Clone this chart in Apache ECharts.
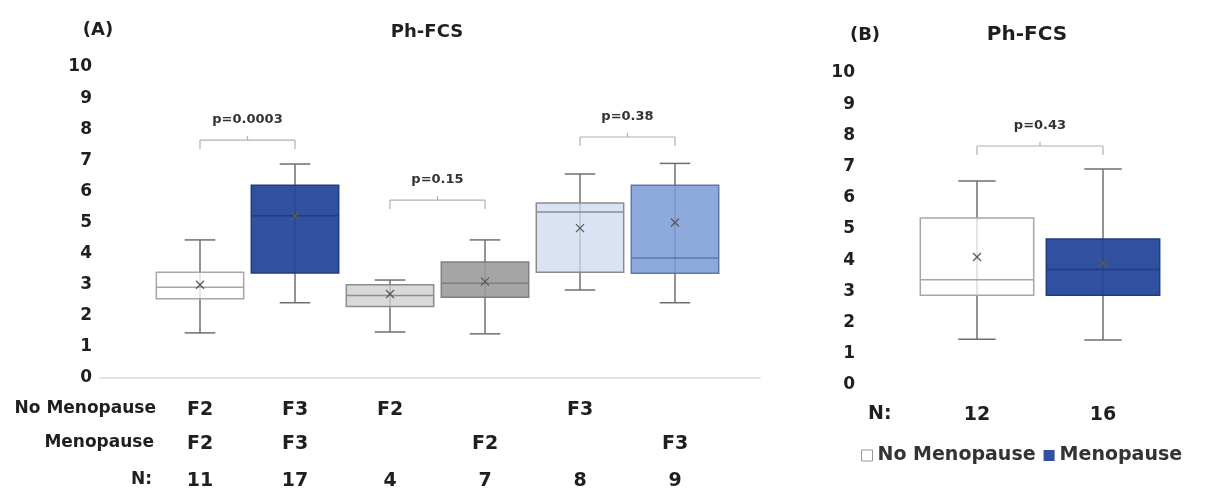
<!DOCTYPE html>
<html><head><meta charset="utf-8">
<script src="https://cdn.jsdelivr.net/npm/echarts@6/dist/echarts.min.js"></script>
<style>html,body{margin:0;padding:0;background:#fff}#c{width:1221px;height:492px}</style>
</head><body><div id="c"></div>
<script>
// ---------- Data: panel A ----------
const catsA = ['NM-F2', 'M-F3', 'NM-F2b', 'M-F2', 'NM-F3', 'M-F3b'];
const rowNoMenoA = ['F2', 'F3', 'F2', '', 'F3', ''];
const rowMenoA = ['F2', 'F3', '', 'F2', '', 'F3'];
const nA = [11, 17, 4, 7, 8, 9];
const minA = [1.45, 2.42, 1.48, 1.42, 2.83, 2.42];
const q1A = [2.55, 3.38, 2.3, 2.6, 3.4, 3.37];
const medA = [2.92, 5.22, 2.65, 3.05, 5.34, 3.86];
const q3A = [3.4, 6.2, 3.0, 3.73, 5.63, 6.2];
const maxA = [4.44, 6.88, 3.15, 4.44, 6.56, 6.9];
const meanA = [3.0, 5.2, 2.7, 3.1, 4.82, 5.0];
const pBracketsA = [[0, 1, 7.65, 'p=0.0003'], [2, 3, 5.72, 'p=0.15'], [4, 5, 7.75, 'p=0.38']];
// ---------- Data: panel B ----------
const catsB = ['No Menopause', 'Menopause'];
const nB = [12, 16];
const minB = [1.47, 1.44];
const q1B = [2.88, 2.88];
const medB = [3.37, 3.7];
const q3B = [5.35, 4.68];
const maxB = [6.54, 6.92];
const meanB = [4.1, 3.9];
const pBracketsB = [[0, 1, 7.66, 'p=0.43']];
const yTicks = [0, 10, 1]; // min, max, interval

// ---------- Styles ----------
const fillA = ['#ffffff', '#2f519f', '#d9d9d9', '#a5a5a5', '#dae3f3', '#8eaadc'];
const strokeA = ['#a6a6a6', '#203d80', '#8c8c8c', '#7f7f7f', '#8c8c8c', '#5b77b0'];
const fillB = ['#ffffff', '#2f519f'];
const strokeB = ['#a6a6a6', '#203d80'];
const FONT = '"DejaVu Sans", "Open Sans", sans-serif';
const TXT = '#1f1f1f';

function rows(arrs) {
  return arrs[0].map((_, i) => arrs.map(a => a[i]));
}

function boxRender(fills, strokes, wRatio, capRatio) {
  return function (params, api) {
    const i = api.value(0);
    const vmin = api.value(1), q1 = api.value(2), med = api.value(3), q3 = api.value(4), vmax = api.value(5), mean = api.value(6);
    const cx = api.coord([i, 0])[0];
    const band = api.size([1, 0])[0];
    const bw = band * wRatio;
    const cw = bw * capRatio;
    const Y = v => api.coord([i, v])[1];
    const fill = fills[params.dataIndex], st = strokes[params.dataIndex];
    const lineStyle = { stroke: '#6f6f6f', lineWidth: 1.5 };
    const ch = [];
    ch.push({ type: 'line', shape: { x1: cx, y1: Y(vmax), x2: cx, y2: Y(vmin) }, style: lineStyle });
    ch.push({ type: 'line', shape: { x1: cx - cw / 2, y1: Y(vmax), x2: cx + cw / 2, y2: Y(vmax) }, style: lineStyle });
    ch.push({ type: 'line', shape: { x1: cx - cw / 2, y1: Y(vmin), x2: cx + cw / 2, y2: Y(vmin) }, style: lineStyle });
    ch.push({ type: 'rect', shape: { x: cx - bw / 2, y: Y(q3), width: bw, height: Y(q1) - Y(q3) }, style: { fill: fill, stroke: st, lineWidth: 1.5 } });
    ch.push({ type: 'line', shape: { x1: cx - bw / 2, y1: Y(med), x2: cx + bw / 2, y2: Y(med) }, style: { stroke: st, lineWidth: 1.5 } });
    ch.push({ type: 'line', shape: { x1: cx, y1: Y(q3), x2: cx, y2: Y(q1) }, style: { stroke: st, lineWidth: 1, opacity: 0.6 } });
    const my = Y(mean), s = 4;
    ch.push({ type: 'line', shape: { x1: cx - s, y1: my - s, x2: cx + s, y2: my + s }, style: { stroke: '#5a5a5a', lineWidth: 1.3 } });
    ch.push({ type: 'line', shape: { x1: cx - s, y1: my + s, x2: cx + s, y2: my - s }, style: { stroke: '#5a5a5a', lineWidth: 1.3 } });
    return { type: 'group', children: ch };
  };
}

function bracketRender(params, api) {
  const a = api.value(0), b = api.value(1), v = api.value(2);
  const label = api.value(3);
  const p1 = api.coord([a, v]), p2 = api.coord([b, v]);
  const st = { stroke: '#b0b0b0', lineWidth: 1.2 };
  const mx = (p1[0] + p2[0]) / 2;
  return {
    type: 'group', children: [
      { type: 'line', shape: { x1: p1[0], y1: p1[1], x2: p2[0], y2: p2[1] }, style: st },
      { type: 'line', shape: { x1: p1[0], y1: p1[1], x2: p1[0], y2: p1[1] + 9 }, style: st },
      { type: 'line', shape: { x1: p2[0], y1: p2[1], x2: p2[0], y2: p2[1] + 9 }, style: st },
      { type: 'line', shape: { x1: mx, y1: p1[1], x2: mx, y2: p1[1] - 4 }, style: st },
      { type: 'text', style: { text: label, x: mx, y: p1[1] - 20, textAlign: 'center', textVerticalAlign: 'middle', font: 'bold 13px ' + FONT, fill: '#333' } }
    ]
  };
}

const chart = echarts.init(document.getElementById('c'), null, { renderer: 'canvas' });

const yBase = { type: 'value', min: yTicks[0], max: yTicks[1], interval: yTicks[2], splitLine: { show: false }, axisLine: { show: false }, axisTick: { show: false } };
const xLab = (margin, arr) => ({
  show: true, margin: margin, interval: 0, color: TXT, fontFamily: FONT, fontWeight: 'bold', fontSize: 19,
  formatter: (val, idx) => String(arr[idx])
});

const option = {
  backgroundColor: '#fff',
  animation: false,
  grid: [
    { left: 152.5, top: 67, width: 570, height: 311 },   // A boxes
    { left: 100, top: 67, width: 660, height: 311 },     // A frame (axis line + y labels)
    { left: 914, top: 73, width: 252, height: 312 }      // B
  ],
  xAxis: [
    { type: 'category', gridIndex: 0, data: catsA, axisLine: { show: false }, axisTick: { show: false }, axisLabel: xLab(23, rowNoMenoA) },
    { type: 'category', gridIndex: 0, data: catsA, position: 'bottom', axisLine: { show: false }, axisTick: { show: false }, axisLabel: xLab(57, rowMenoA) },
    { type: 'category', gridIndex: 0, data: catsA, position: 'bottom', axisLine: { show: false }, axisTick: { show: false }, axisLabel: xLab(94, nA) },
    { type: 'value', gridIndex: 1, min: 0, max: 1, axisLine: { show: true, lineStyle: { color: '#d9d9d9', width: 1.5 } }, axisTick: { show: false }, axisLabel: { show: false }, splitLine: { show: false } },
    { type: 'category', gridIndex: 2, data: catsB, axisLine: { show: false }, axisTick: { show: false }, axisLabel: xLab(21, nB) }
  ],
  yAxis: [
    Object.assign({ gridIndex: 0, axisLabel: { show: false } }, yBase),
    Object.assign({ gridIndex: 1, axisLabel: { show: true, margin: 8, color: TXT, fontFamily: FONT, fontWeight: 'bold', fontSize: 17 } }, yBase),
    Object.assign({ gridIndex: 2, axisLabel: { show: true, margin: 59, color: TXT, fontFamily: FONT, fontWeight: 'bold', fontSize: 17 } }, yBase)
  ],
  legend: {
    left: 856, top: 441, itemWidth: 11, itemHeight: 11, itemGap: 8,
    textStyle: { color: '#333', fontFamily: FONT, fontWeight: 'bold', fontSize: 19, padding: [0, 0, 0, 0] },
    data: [
      { name: 'No Menopause', icon: 'rect', itemStyle: { color: '#fff', borderColor: '#999', borderWidth: 1 } },
      { name: 'Menopause', icon: 'rect', itemStyle: { color: '#2f519f' } }
    ]
  },
  title: [
    { text: '(A)', left: 93, top: 16, textAlign: 'center', textStyle: { fontFamily: FONT, fontWeight: 'bold', fontSize: 18, color: TXT } },
    { text: 'Ph-FCS', left: 422, top: 18, textAlign: 'center', textStyle: { fontFamily: FONT, fontWeight: 'bold', fontSize: 18, color: TXT } },
    { text: '(B)', left: 860, top: 21, textAlign: 'center', textStyle: { fontFamily: FONT, fontWeight: 'bold', fontSize: 18, color: TXT } },
    { text: 'Ph-FCS', left: 1022, top: 20, textAlign: 'center', textStyle: { fontFamily: FONT, fontWeight: 'bold', fontSize: 20, color: TXT } }
  ],
  graphic: [
    { type: 'text', right: 1221 - 156, top: 400, style: { text: 'No Menopause', font: 'bold 17px ' + FONT, fill: TXT } },
    { type: 'text', right: 1221 - 154, top: 434, style: { text: 'Menopause', font: 'bold 17px ' + FONT, fill: TXT } },
    { type: 'text', right: 1221 - 152, top: 471, style: { text: 'N:', font: 'bold 17px ' + FONT, fill: TXT } },
    { type: 'text', left: 868, top: 405, style: { text: 'N:', font: 'bold 19px ' + FONT, fill: TXT } }
  ],
  series: [
    { type: 'custom', xAxisIndex: 0, yAxisIndex: 0, renderItem: boxRender(fillA, strokeA, 0.92, 0.35),
      data: rows([catsA.map((_, i) => i), minA, q1A, medA, q3A, maxA, meanA]), z: 3 },
    { type: 'custom', xAxisIndex: 0, yAxisIndex: 0, renderItem: bracketRender, data: pBracketsA, z: 2 },
    { type: 'custom', name: 'No Menopause', xAxisIndex: 4, yAxisIndex: 2, renderItem: boxRender(fillB, strokeB, 0.9, 0.33),
      data: rows([[0], [minB[0]], [q1B[0]], [medB[0]], [q3B[0]], [maxB[0]], [meanB[0]]]), z: 3 },
    { type: 'custom', name: 'Menopause', xAxisIndex: 4, yAxisIndex: 2, renderItem: (p, api) => boxRender([fillB[1]], [strokeB[1]], 0.9, 0.33)(p, api),
      data: rows([[1], [minB[1]], [q1B[1]], [medB[1]], [q3B[1]], [maxB[1]], [meanB[1]]]), z: 3 },
    { type: 'custom', xAxisIndex: 4, yAxisIndex: 2, renderItem: bracketRender, data: pBracketsB, z: 2 }
  ]
};
chart.setOption(option);
</script></body></html>
